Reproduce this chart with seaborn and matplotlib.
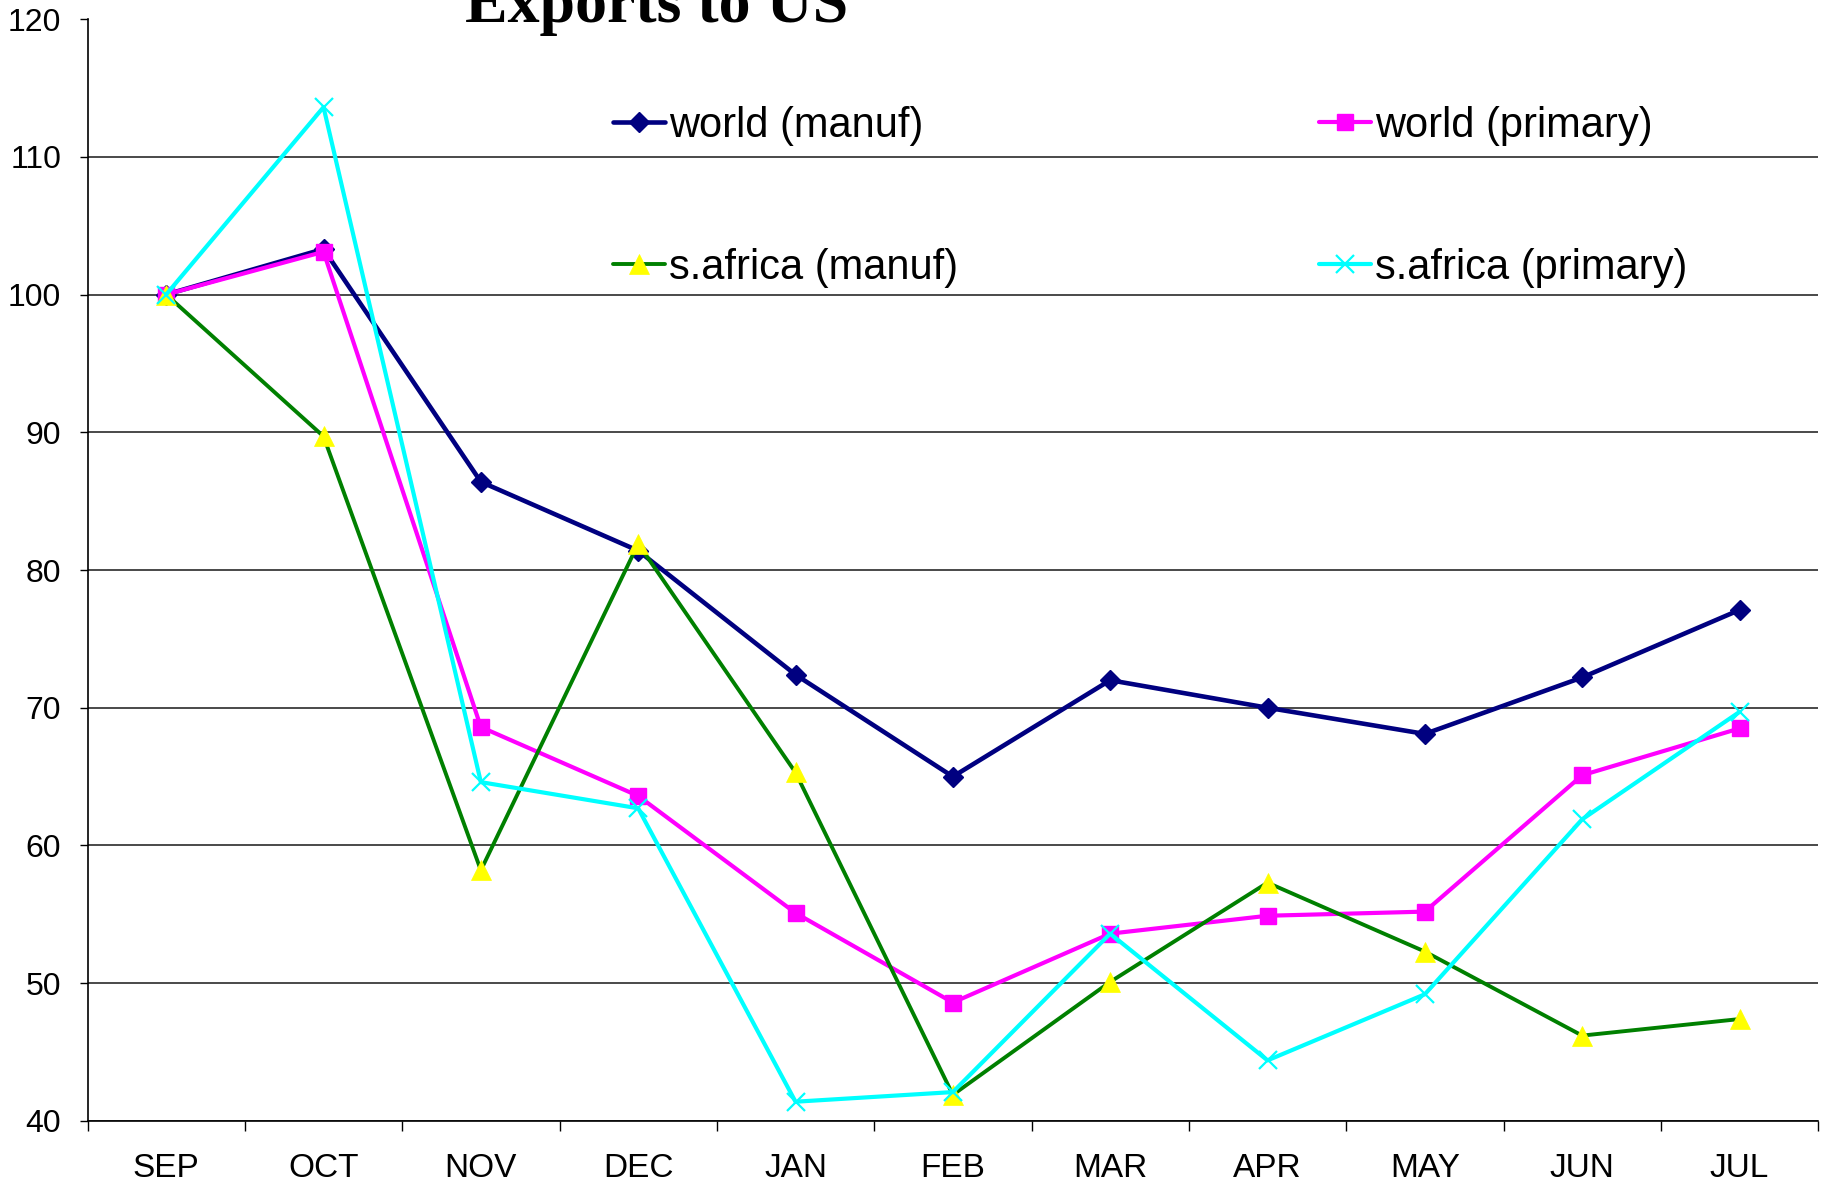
import matplotlib
matplotlib.use("Agg")
import matplotlib.pyplot as plt
import numpy as np
import pandas as pd
import seaborn as sns

# Chart data (index values, SEP = 100)
months = ["SEP", "OCT", "NOV", "DEC", "JAN", "FEB", "MAR", "APR", "MAY", "JUN", "JUL"]
world_manuf = [100, 103.3, 86.4, 81.4, 72.4, 65.0, 72.0, 70.0, 68.1, 72.2, 77.1]
world_primary = [100, 103.1, 68.6, 63.6, 55.1, 48.6, 53.6, 54.9, 55.2, 65.1, 68.5]
safrica_manuf = [100, 89.7, 58.2, 81.9, 65.3, 41.9, 50.1, 57.3, 52.3, 46.2, 47.4]
safrica_primary = [100, 113.6, 64.6, 62.7, 41.4, 42.1, 53.6, 44.4, 49.2, 61.9, 69.7]
y_ticks = [40, 50, 60, 70, 80, 90, 100, 110, 120]

sns.set_theme(style="white")
plt.rcParams["font.family"] = ["Liberation Sans", "DejaVu Sans"]
plt.rcParams["text.color"] = "black"

fig, ax = plt.subplots(figsize=(18.31, 11.88), dpi=100)
fig.subplots_adjust(left=0.0478, right=0.993, top=0.984, bottom=0.0564)

df = pd.DataFrame({
    "month": months,
    "world (manuf)": world_manuf,
    "world (primary)": world_primary,
    "s.africa (manuf)": safrica_manuf,
    "s.africa (primary)": safrica_primary,
})

# series styles: line colour, line width, marker, marker face, marker edge, marker size
styles = {
    "world (manuf)": dict(color="#000080", lw=3.3, marker="D", mfc="#000080", mec="#000080", ms=10, mew=1),
    "world (primary)": dict(color="#FF00FF", lw=3.0, marker="s", mfc="#FF00FF", mec="#FF00FF", ms=12, mew=1),
    "s.africa (manuf)": dict(color="#008000", lw=2.8, marker="^", mfc="#FFFF00", mec="#FFFF00", ms=14, mew=0.5),
    "s.africa (primary)": dict(color="#00FFFF", lw=3.0, marker="x", mfc="#00FFFF", mec="#00FFFF", ms=13, mew=1.6),
}

for name, st in styles.items():
    sns.lineplot(
        data=df, x="month", y=name, ax=ax, sort=False,
        color=st["color"], linewidth=st["lw"],
        marker=st["marker"], markerfacecolor=st["mfc"], markeredgecolor=st["mec"],
        markersize=st["ms"], markeredgewidth=st["mew"], label=name,
    )

ax.set_xlim(-0.5, len(months) - 0.5)
ax.set_ylim(40, 120)
ax.set_yticks(y_ticks)
ax.set_xlabel("")
ax.set_ylabel("")

# gridlines (none at the top value)
ax.yaxis.grid(True, color="#3a3a3a", linewidth=1.3)
ax.xaxis.grid(False)
ax.set_axisbelow(True)
ax.get_ygridlines()[-1].set_visible(False)

# spines
for side in ["top", "right"]:
    ax.spines[side].set_visible(False)
for side in ["left", "bottom"]:
    ax.spines[side].set_color("black")
    ax.spines[side].set_linewidth(1.2)

# category boundary ticks (Excel style)
ax.set_xticks(np.arange(-0.5, len(months)), minor=True)
ax.tick_params(axis="x", which="minor", length=7, width=1, color="black", bottom=True)
ax.tick_params(axis="x", which="major", length=0, pad=23, labelsize=24, labelcolor="black")
ax.tick_params(axis="y", which="major", length=6, width=1, color="black", left=True,
               pad=13, labelsize=23, labelcolor="black")

# legend in two columns
h, l = ax.get_legend_handles_labels()
order = [0, 2, 1, 3]
leg = ax.legend(
    [h[i] for i in order], [l[i] for i in order],
    ncol=2, loc="upper left", bbox_to_anchor=(613 / 1831, 1 - 106 / 1188),
    bbox_transform=fig.transFigure, frameon=False, fontsize=30,
    handlelength=1.25, handletextpad=0.1, labelspacing=2.45, columnspacing=8.65,
    borderpad=0, borderaxespad=0,
)
for t in leg.get_texts():
    t.set_color("black")

# title (clipped at top, as in the reference)
fig.text(657 / 1831, 1 - 22 / 1188, "Exports to US", ha="center", va="baseline",
         fontsize=46, fontweight="bold", color="black",
         family=["Liberation Serif", "DejaVu Serif"])

fig.savefig("out.png", dpi=100)
plt.close(fig)
